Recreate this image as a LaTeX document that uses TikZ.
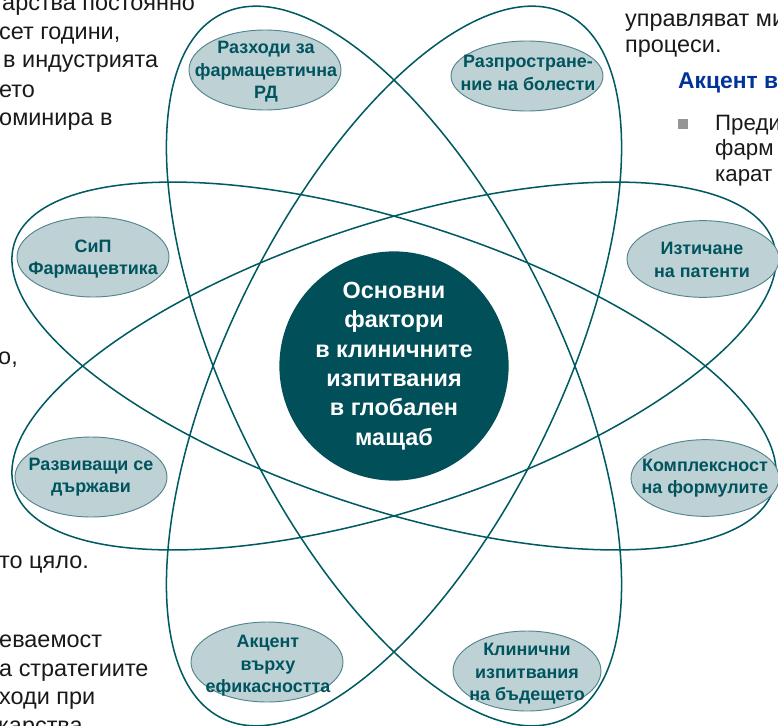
\documentclass[tikz,border=0pt]{standalone}
\usepackage{fontspec}
\setmainfont{Liberation Sans}
\usetikzlibrary{shapes.geometric}

\definecolor{orbitteal}{RGB}{0,90,98}
\definecolor{hubteal}{RGB}{0,79,89}
\definecolor{factorfill}{RGB}{190,209,213}
\definecolor{factorrim}{RGB}{84,132,142}
\definecolor{factorink}{RGB}{0,84,94}
\definecolor{slideink}{RGB}{25,25,25}
\definecolor{slideblue}{RGB}{0,51,153}
\definecolor{bulletgrey}{RGB}{150,150,150}

\tikzset{
  orbit/.style={draw=orbitteal, line width=1.3pt},
  factor/.style={ellipse, draw=factorrim, fill=factorfill, line width=0.8pt,
    minimum width=45.6mm, minimum height=24mm, inner sep=0pt},
  factortext/.style={text=factorink, inner sep=0pt, align=center,
    font=\bfseries\fontsize{15.3}{19.2}\selectfont},
  hub/.style={circle, fill=hubteal, minimum size=59.4mm, inner sep=0pt,
    text=white, align=center, font=\bfseries\fontsize{20}{25}\selectfont},
  slide/.style={anchor=base west, inner sep=0pt, text=slideink,
    font=\fontsize{20}{24}\selectfont},
}

\begin{document}
\begin{tikzpicture}[x=0.3mm, y=-0.3mm]
\useasboundingbox (0,0) rectangle (778,725);
\clip (0,0) rectangle (778,725);

% slide text left
\node[slide] (l1) at (2,11) {арства постоянно};
\node[slide] (l2) at (-1,40) {сет години,};
\node[slide] (l3) at (3,68) {в индустрията};
\node[slide] (l4) at (-1,97) {ето};
\node[slide] (l5) at (-1,125) {оминира в};
\node[slide] (l6) at (-2,364) {о,};
\node[slide] (l7) at (-1,568) {то цяло.};
\node[slide] (l8) at (-1,647) {еваемост};
\node[slide] (l9) at (-1,676) {а стратегиите};
\node[slide] (l10) at (-1,704) {ходи при};
\node[slide] (l11) at (-2,733) {карства};
% slide text right
\node[slide] (r1) at (625,27) {управляват ми};
\node[slide] (r2) at (625,53) {процеси.};
\node[slide, text=slideblue, font=\bfseries\fontsize{19.5}{23}\selectfont] (r3) at (678,88) {Акцент в};
\fill[bulletgrey] (678,119) rectangle (688,129);
\node[slide, font=\fontsize{19}{23}\selectfont] (r4) at (715,130) {Преди};
\node[slide, font=\fontsize{19}{23}\selectfont] (r5) at (715,155) {фарм};
\node[slide, font=\fontsize{19}{23}\selectfont] (r6) at (715,181) {карат};

% orbits
\coordinate (c) at (394,366);
\draw[orbit, rotate around={26:(c)}] (c) ellipse [x radius=166, y radius=392];
\draw[orbit, rotate around={-26:(c)}] (c) ellipse [x radius=166, y radius=392];
\draw[orbit, rotate around={-18:(c)}] (c) ellipse [x radius=399, y radius=143.5];
\draw[orbit, rotate around={18:(c)}] (c) ellipse [x radius=399, y radius=143.5];

% centre
\node[hub] (hub) at (c) {Основни\\фактори\\в клиничните\\изпитвания\\в глобален\\мащаб};

% factors
\node[factor] (rd) at (265,70) {};
\node[factortext] (rdtext) at (266,72) {Разходи за\\фармацевтична\\РД};
\node[factor, minimum height=21mm] (spread) at (527,76) {};
\node[factortext] (spreadtext) at (528,73) {Разпростране-\\ние на болести};
\node[factor] (gmp) at (93,257) {};
\node[factortext] (gmptext) at (93,259) {СиП\\Фармацевтика};
\node[factor, minimum height=23mm] (patent) at (703,259) {};
\node[factortext] (patenttext) at (702,260) {Изтичане\\на патенти};
\node[factor] (devel) at (91,477) {};
\node[factortext] (develtext) at (91,477) {Развиващи се\\държави};
\node[factor, minimum width=44.4mm, minimum height=23mm] (formula) at (705,478) {};
\node[factortext] (formulatext) at (705,478) {Комплексност\\на формулите};
\node[factor] (effic) at (267,662) {};
\node[factortext] (effictext) at (268,666) {Акцент\\върху\\ефикасността};
\node[factor, minimum width=44.4mm] (future) at (527,671) {};
\node[factortext] (futuretext) at (527,674) {Клинични\\изпитвания\\на бъдещето};
\end{tikzpicture}
\end{document}
